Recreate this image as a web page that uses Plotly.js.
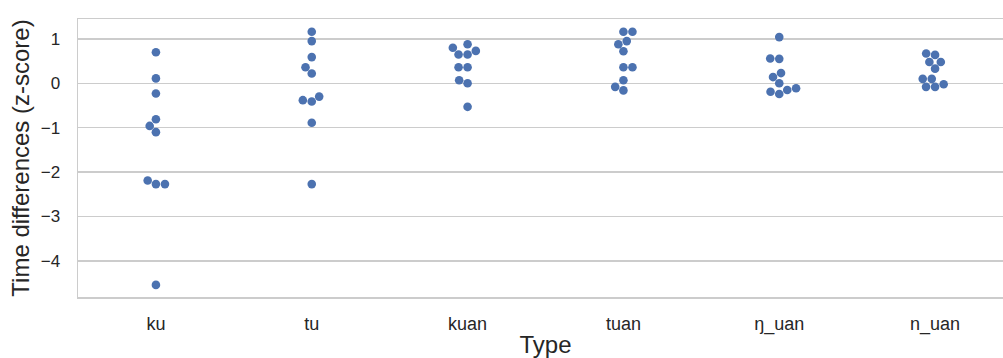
<!DOCTYPE html>
<html><head><meta charset="utf-8">
<script src="https://cdn.plot.ly/plotly-3.0.1.min.js"></script>
<style>html,body{margin:0;padding:0;overflow:hidden;background:#fff}</style>
</head><body><div id="chart" style="width:1030px;height:358px"></div>
<script>
// ---- data ----
const categories = ["ku", "tu", "kuan", "tuan", "ŋ_uan", "n_uan"];
const ku    = [0.70, 0.11, -0.23, -0.81, -0.96, -1.10, -2.19, -2.27, -2.27, -4.54];
const tu    = [1.16, 0.95, 0.59, 0.36, 0.22, -0.30, -0.38, -0.41, -0.89, -2.27];
const kuan  = [0.88, 0.80, 0.73, 0.65, 0.65, 0.36, 0.36, 0.07, 0.00, -0.53];
const tuan  = [1.16, 1.16, 0.95, 0.88, 0.72, 0.36, 0.36, 0.07, -0.08, -0.16];
const ngUan = [1.04, 0.56, 0.55, 0.23, 0.14, 0.00, -0.11, -0.15, -0.19, -0.24];
const nUan  = [0.67, 0.64, 0.48, 0.48, 0.33, 0.10, 0.10, -0.02, -0.08, -0.08];
const seriesValues = [ku, tu, kuan, tuan, ngUan, nUan];
const yTickValues = [1, 0, -1, -2, -3, -4];
const yTickLabels = ["1", "0", "−1", "−2", "−3", "−4"];
// side on which exact duplicate values are placed by the swarm (+1 right, -1 left)
const duplicateSide = [1, -1, -1, 1, -1, -1];

// ---- layout geometry ----
const W = 1030, H = 358;
const M = {l: 78, r: 17, t: 19, b: 61};
const yRange = [-4.813, 1.448];
const xRange = [-0.5, 5.5];
const plotW = W - M.l - M.r, plotH = H - M.t - M.b;
const pxPerY = plotH / (yRange[1] - yRange[0]);
const pxPerX = plotW / (xRange[1] - xRange[0]);
const markerD = 8.6;

// seaborn-like beeswarm, computed in pixel space
function beeswarm(values, dupSide) {
  const idx = values.map((v, i) => i).sort((a, b) => values[a] - values[b]);
  const placed = [];
  const offsets = new Array(values.length).fill(0);
  for (const i of idx) {
    const y = values[i] * pxPerY;
    const nb = placed.filter(p => (y - p.y) < markerD);
    const cands = [0];
    let leftFirst = true;
    for (const n of nb) {
      const dy = y - n.y;
      const dx = Math.sqrt(Math.max(markerD * markerD - dy * dy, 0)) * 1.05;
      const l = n.x - dx, r = n.x + dx;
      if (values[i] === n.v && dupSide > 0) cands.push(r, l);
      else if (leftFirst) cands.push(l, r);
      else cands.push(r, l);
      leftFirst = !leftFirst;
    }
    const sorted = cands.map((c, k) => ({c, k})).sort((a, b) => {
      const d = Math.abs(a.c) - Math.abs(b.c);
      return Math.abs(d) < 1e-9 ? a.k - b.k : d;
    });
    let chosen = sorted[0].c;
    for (const s of sorted) {
      const ok = nb.every(n => (n.x - s.c) ** 2 + (n.y - y) ** 2 >= markerD * markerD - 1e-9);
      if (ok) { chosen = s.c; break; }
    }
    placed.push({x: chosen, y: y, v: values[i]});
    offsets[i] = chosen;
  }
  return offsets;
}

const xs = [], ys = [];
seriesValues.forEach((vals, ci) => {
  const off = beeswarm(vals, duplicateSide[ci]);
  vals.forEach((v, j) => { xs.push(ci + off[j] / pxPerX); ys.push(v); });
});

const font = '"Liberation Sans", Arial, sans-serif';
const ink = '#262626';
const trace = {
  type: 'scatter', mode: 'markers', x: xs, y: ys,
  marker: {color: '#4c72b0', size: markerD, line: {width: 0}},
  hoverinfo: 'y', showlegend: false
};
const layout = {
  width: W, height: H, margin: M,
  paper_bgcolor: '#ffffff', plot_bgcolor: '#ffffff',
  font: {family: font, color: ink},
  xaxis: {
    range: xRange, tickmode: 'array', tickvals: categories.map((c, i) => i), ticktext: categories,
    showgrid: false, zeroline: false, showline: true, mirror: true, linecolor: '#cccccc', linewidth: 1.5,
    ticks: 'outside', ticklen: 10, tickcolor: 'rgba(0,0,0,0)',
    tickfont: {family: font, size: 18, color: ink},
    title: {text: 'Type', font: {family: font, size: 24, color: ink}, standoff: 6}
  },
  yaxis: {
    range: yRange, tickmode: 'array', tickvals: yTickValues, ticktext: yTickLabels,
    showgrid: true, gridcolor: '#cccccc', gridwidth: 1.5, zeroline: false,
    showline: true, mirror: true, linecolor: '#cccccc', linewidth: 1.5,
    ticks: 'outside', ticklen: 13, tickcolor: 'rgba(0,0,0,0)',
    tickfont: {family: font, size: 17, color: ink},
    title: {text: 'Time differences (z-score)', font: {family: font, size: 24, color: ink}, standoff: 4}
  }
};
Plotly.newPlot('chart', [trace], layout, {displayModeBar: false, staticPlot: true});
</script></body></html>
